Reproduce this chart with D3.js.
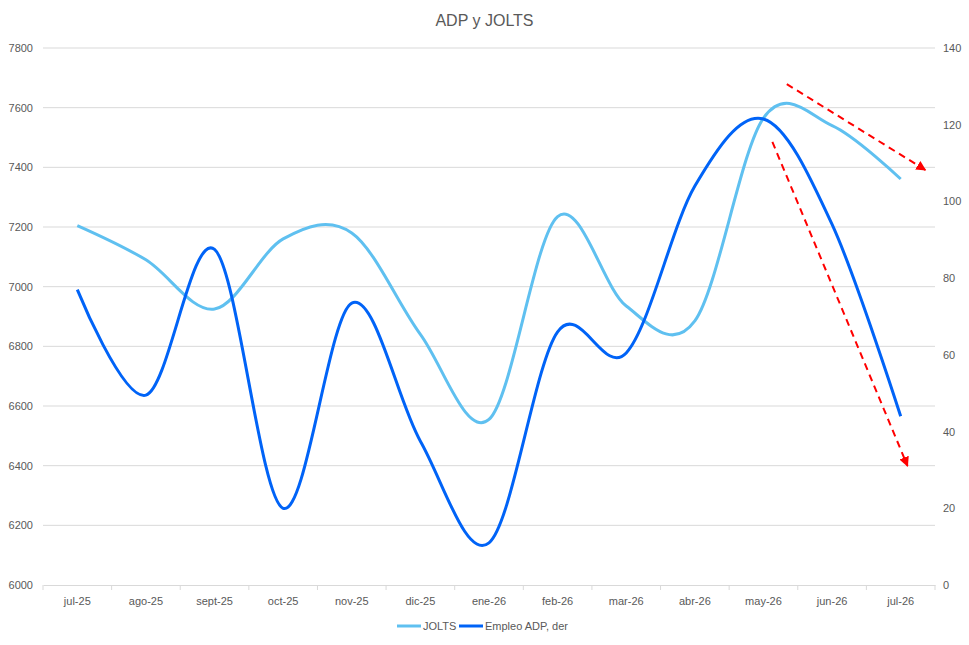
<!DOCTYPE html>
<html>
<head>
<meta charset="utf-8">
<script src="https://cdn.jsdelivr.net/npm/d3@7"></script>
<style>
  body { margin: 0; background: #fff; }
  svg { font-family: "Liberation Sans", Arial, sans-serif; }
  .tick text { fill: #595959; font-size: 11px; }
</style>
</head>
<body>
<svg id="chart" width="969" height="645"></svg>
<script>
// Chart data
const months = ['jul-25', 'ago-25', 'sept-25', 'oct-25', 'nov-25', 'dic-25', 'ene-26',
  'feb-26', 'mar-26', 'abr-26', 'may-26', 'jun-26', 'jul-26'];
const jolts = [7205, 7090, 6925, 7160, 7180, 6840, 6555, 7235, 6935, 6885, 7565, 7540, 7361];
const adp = [77, 49.5, 87.5, 20, 73.5, 37.5, 11, 66, 60.5, 104, 121.5, 94, 44];
const leftTicks = [6000, 6200, 6400, 6600, 6800, 7000, 7200, 7400, 7600, 7800];
const rightTicks = [0, 20, 40, 60, 80, 100, 120, 140];
// Annotation arrows: [month index, JOLTS-axis value] start/end
const arrows = [
  { from: [10.34, 7679], to: [12.36, 7391] },
  { from: [10.13, 7485], to: [12.10, 6399] },
];

const svg = d3.select('#chart');
const margin = { top: 48, right: 34, bottom: 60, left: 43 };
const width = 969, height = 645;
const innerW = width - margin.left - margin.right;
const innerH = height - margin.top - margin.bottom;

const g = svg.append('g').attr('transform', `translate(${margin.left},${margin.top})`);

// Scales
const xBand = d3.scaleBand().domain(months).range([0, innerW]);
const x = d3.scaleLinear().domain([-0.5, months.length - 0.5]).range([0, innerW]);
const yL = d3.scaleLinear().domain([6000, 7800]).range([innerH, 0]);
const yR = d3.scaleLinear().domain([0, 140]).range([innerH, 0]);

// Gridlines
g.append('g')
  .selectAll('line')
  .data(leftTicks.slice(1))
  .join('line')
  .attr('x1', 0).attr('x2', innerW)
  .attr('y1', (d) => yL(d)).attr('y2', (d) => yL(d))
  .attr('stroke', '#d9d9d9').attr('stroke-width', 1);

// Left axis
const leftAxis = g.append('g')
  .call(d3.axisLeft(yL).tickValues(leftTicks).tickSize(0).tickPadding(10).tickFormat(d3.format('d')));
leftAxis.select('.domain').remove();

// Right axis
const rightAxis = g.append('g')
  .attr('transform', `translate(${innerW},0)`)
  .call(d3.axisRight(yR).tickValues(rightTicks).tickSize(0).tickPadding(8));
rightAxis.select('.domain').remove();

// Bottom axis with boundary ticks
const bottom = g.append('g').attr('transform', `translate(0,${innerH})`);
bottom.call(d3.axisBottom(xBand).tickSize(0).tickPadding(12));
bottom.select('.domain').attr('stroke', '#d9d9d9');
bottom.selectAll('line.bound')
  .data(d3.range(months.length + 1))
  .join('line')
  .attr('class', 'bound')
  .attr('x1', (i) => i * xBand.bandwidth()).attr('x2', (i) => i * xBand.bandwidth())
  .attr('y1', 0).attr('y2', 5)
  .attr('stroke', '#d9d9d9');

// Lines
const curve = d3.curveCardinal.tension(0);
const joltsLine = d3.line().x((d, i) => x(i)).y((d) => yL(d)).curve(curve);
const adpLine = d3.line().x((d, i) => x(i)).y((d) => yR(d)).curve(curve);

g.append('path')
  .attr('d', joltsLine(jolts))
  .attr('fill', 'none').attr('stroke', '#5fc0f0').attr('stroke-width', 3);

g.append('path')
  .attr('d', adpLine(adp))
  .attr('fill', 'none').attr('stroke', '#0063f7').attr('stroke-width', 3);

// Arrow annotations
svg.append('defs').append('marker')
  .attr('id', 'arrowhead')
  .attr('viewBox', '0 0 10 10')
  .attr('refX', 9).attr('refY', 5)
  .attr('markerWidth', 5).attr('markerHeight', 5)
  .attr('orient', 'auto')
  .append('path')
  .attr('d', 'M0,0 L10,5 L0,10 z')
  .attr('fill', '#ff0000');

g.append('g')
  .selectAll('line')
  .data(arrows)
  .join('line')
  .attr('x1', (d) => x(d.from[0])).attr('y1', (d) => yL(d.from[1]))
  .attr('x2', (d) => x(d.to[0])).attr('y2', (d) => yL(d.to[1]))
  .attr('stroke', '#ff0000').attr('stroke-width', 2)
  .attr('stroke-dasharray', '7,5')
  .attr('marker-end', 'url(#arrowhead)');

// Title
svg.append('text')
  .attr('x', width / 2).attr('y', 26)
  .attr('text-anchor', 'middle')
  .attr('fill', '#595959')
  .attr('font-size', 16)
  .text('ADP y JOLTS');

// Legend
const legendItems = [
  { name: 'JOLTS', color: '#5fc0f0', x: 397 },
  { name: 'Empleo ADP, der', color: '#0063f7', x: 459 },
];
const legend = svg.append('g').selectAll('g')
  .data(legendItems)
  .join('g')
  .attr('transform', (d) => `translate(${d.x},626)`);
legend.append('line')
  .attr('x1', 0).attr('x2', 24)
  .attr('stroke', (d) => d.color).attr('stroke-width', 3);
legend.append('text')
  .attr('x', 26).attr('dy', '0.35em')
  .attr('fill', '#595959').attr('font-size', 11)
  .text((d) => d.name);
</script>
</body>
</html>
